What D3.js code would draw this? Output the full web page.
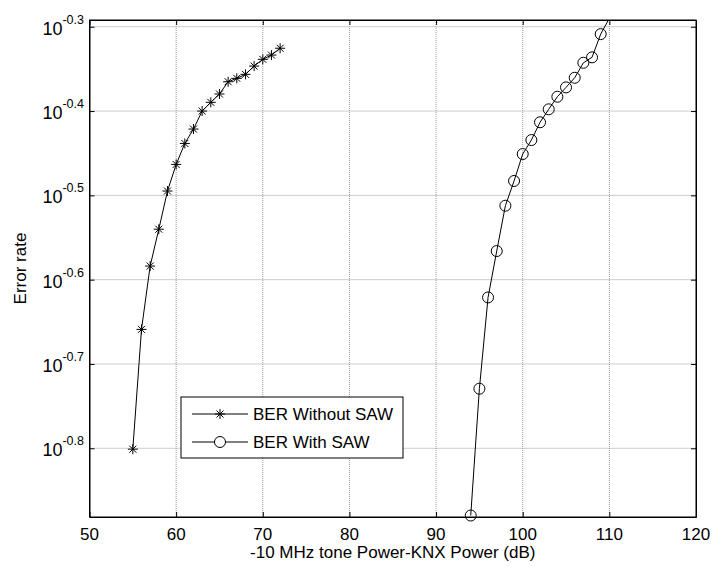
<!DOCTYPE html>
<html>
<head>
<meta charset="utf-8">
<script src="https://cdn.jsdelivr.net/npm/d3@7"></script>
<style>
  body { margin: 0; background: #fff; }
  svg { display: block; font-family: Arial, "Liberation Sans", sans-serif; }
</style>
</head>
<body>
<svg id="chart" width="713" height="566"></svg>
<script>
// BER Without SAW (stars)
let powerNoSaw = [55, 56, 57, 58, 59, 60, 61, 62, 63, 64, 65, 66, 67, 68, 69, 70, 71, 72]
let berNoSaw = [0.1581, 0.2193, 0.2607, 0.2883, 0.3200, 0.3441, 0.3644, 0.3790, 0.3981, 0.4077,
  0.4171, 0.4313, 0.4353, 0.4401, 0.4501, 0.4585, 0.4639, 0.4726]

// BER With SAW (circles)
let powerSaw = [94, 95, 96, 97, 98, 99, 100, 101, 102, 103, 104, 105, 106, 107, 108, 109, 110]
let berSaw = [0.1319, 0.1865, 0.2393, 0.2716, 0.3074, 0.3289, 0.3540, 0.3678, 0.3861, 0.4000,
  0.4140, 0.4247, 0.4360, 0.4542, 0.4610, 0.4912, 0.5130]

let xTicks = [50, 60, 70, 80, 90, 100, 110, 120]
let yTickExps = ['-0.3', '-0.4', '-0.5', '-0.6', '-0.7', '-0.8']
let legendLabels = ['BER Without SAW', 'BER With SAW']

const svg = d3.select('#chart')
const pLeft = 89.5, pRight = 696, pTop = 20, pBottom = 517

const x = d3.scaleLinear().domain([50, 120]).range([pLeft, pRight])
const y = d3.scaleLog().domain([Math.pow(10, -0.8815), Math.pow(10, -0.292)]).range([pBottom, pTop])
const yTicks = yTickExps.map(e => Math.pow(10, +e))

svg.append('clipPath').attr('id', 'plotClip')
  .append('rect')
  .attr('x', pLeft).attr('y', pTop)
  .attr('width', pRight - pLeft).attr('height', pBottom - pTop)

// grid
const grid = svg.append('g')
grid.selectAll('.vg').data(xTicks.slice(1, -1)).join('line')
  .attr('x1', d => x(d)).attr('x2', d => x(d))
  .attr('y1', pTop).attr('y2', pBottom)
  .style('stroke', '#999').style('stroke-dasharray', '1,1')
grid.selectAll('.hg').data(yTicks).join('line')
  .attr('x1', pLeft).attr('x2', pRight)
  .attr('y1', d => y(d)).attr('y2', d => y(d))
  .style('stroke', '#999').style('stroke-dasharray', '1,1')

// axes with inward ticks
svg.append('g').attr('transform', `translate(0,${pBottom})`)
  .call(d3.axisBottom(x).tickValues(xTicks).tickSizeInner(-5).tickSizeOuter(0).tickFormat(''))
svg.append('g').attr('transform', `translate(0,${pTop})`)
  .call(d3.axisTop(x).tickValues(xTicks).tickSizeInner(-5).tickSizeOuter(0).tickFormat(''))
svg.append('g').attr('transform', `translate(${pLeft},0)`)
  .call(d3.axisLeft(y).tickValues(yTicks).tickSizeInner(-5).tickSizeOuter(0).tickFormat(''))
svg.append('g').attr('transform', `translate(${pRight},0)`)
  .call(d3.axisRight(y).tickValues(yTicks).tickSizeInner(-5).tickSizeOuter(0).tickFormat(''))
svg.selectAll('.domain').style('stroke', '#000')
svg.selectAll('.tick line').style('stroke', '#000')

svg.append('rect')
  .attr('x', pLeft).attr('y', pTop)
  .attr('width', pRight - pLeft).attr('height', pBottom - pTop)
  .style('fill', 'none').style('stroke', '#000')

// tick labels
svg.selectAll('.xl').data(xTicks).join('text')
  .attr('x', d => x(d)).attr('y', 540)
  .attr('text-anchor', 'middle')
  .style('font-size', '17px')
  .text(d => d)

const yl = svg.selectAll('.yl').data(yTickExps).join('text')
  .attr('x', 84).attr('y', d => y(Math.pow(10, +d)) + 8)
  .attr('text-anchor', 'end')
  .style('font-size', '18px')
yl.append('tspan').text('10')
yl.append('tspan').attr('dy', -11).style('font-size', '12.5px').text(d => d)

svg.append('text')
  .attr('x', (pLeft + pRight) / 2).attr('y', 558)
  .attr('text-anchor', 'middle')
  .style('font-size', '17px')
  .text('-10 MHz tone Power-KNX Power (dB)')

svg.append('text')
  .attr('transform', `translate(26,${(pTop + pBottom) / 2}) rotate(-90)`)
  .attr('text-anchor', 'middle')
  .style('font-size', '17px')
  .text('Error rate')

// series
const line = d3.line().x(d => x(d[0])).y(d => y(d[1]))
const starData = powerNoSaw.map((p, i) => [p, berNoSaw[i]])
const circData = powerSaw.map((p, i) => [p, berSaw[i]])
const inside = d => y(d[1]) >= pTop && y(d[1]) <= pBottom

const plot = svg.append('g').attr('clip-path', 'url(#plotClip)')
plot.append('path').datum(starData).attr('d', line)
  .style('fill', 'none').style('stroke', '#000').style('stroke-width', 1)
plot.append('path').datum(circData).attr('d', line)
  .style('fill', 'none').style('stroke', '#000').style('stroke-width', 1)

const starPath = 'M-5,0L5,0M0,-5L0,5M-3.5,-3.5L3.5,3.5M-3.5,3.5L3.5,-3.5'
svg.selectAll('.star').data(starData.filter(inside)).join('path')
  .attr('transform', d => `translate(${x(d[0])},${y(d[1])})`)
  .attr('d', starPath)
  .style('fill', 'none').style('stroke', '#000').style('stroke-width', 1)

svg.selectAll('.circ').data(circData.filter(inside)).join('circle')
  .attr('cx', d => x(d[0])).attr('cy', d => y(d[1]))
  .attr('r', 5.5)
  .style('fill', 'none').style('stroke', '#000').style('stroke-width', 1)

// legend
const lg = svg.append('g')
lg.append('rect')
  .attr('x', 181).attr('y', 397).attr('width', 222).attr('height', 61)
  .style('fill', '#fff').style('stroke', '#000')
legendLabels.forEach((label, i) => {
  const ly = 414 + i * 28
  lg.append('line').attr('x1', 192).attr('x2', 248).attr('y1', ly).attr('y2', ly)
    .style('stroke', '#000')
  if (i === 0) {
    lg.append('path').attr('transform', `translate(220,${ly})`).attr('d', starPath)
      .style('fill', 'none').style('stroke', '#000')
  } else {
    lg.append('circle').attr('cx', 220).attr('cy', ly).attr('r', 5.5)
      .style('fill', '#fff').style('stroke', '#000')
  }
  lg.append('text').attr('x', 253).attr('y', ly + 6)
    .style('font-size', '17px')
    .text(label)
})
</script>
</body>
</html>
